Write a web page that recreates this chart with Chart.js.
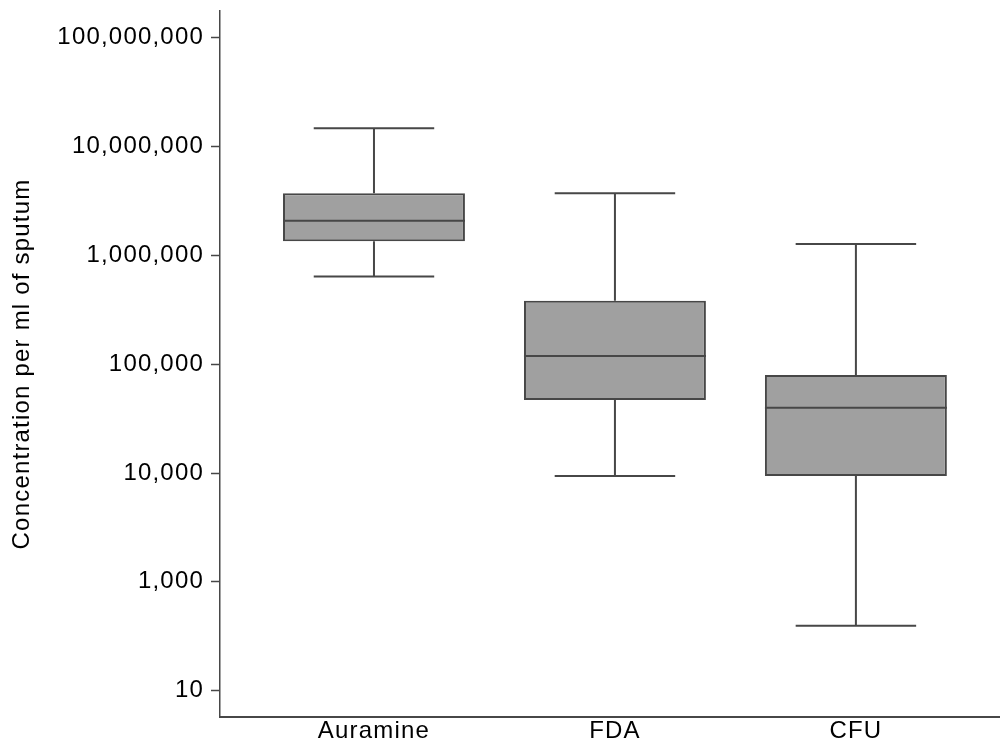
<!DOCTYPE html>
<html>
<head>
<meta charset="utf-8">
<script src="https://cdn.jsdelivr.net/npm/chart.js@4/dist/chart.umd.min.js"></script>
<style>
  html, body { margin: 0; padding: 0; background: #fff; }
  #wrap { width: 1000px; height: 745px; position: relative; }
</style>
</head>
<body>
<div id="wrap"><canvas id="box"></canvas></div>
<script>
//groups along the x axis
const categories = ["Auramine", "FDA", "CFU"];
//five number summary for each group (per ml of sputum)
const mins = [640000, 9400, 395];
const q1s = [1350000, 47000, 9400];
const medians = [2080000, 119000, 39700];
const q3s = [3720000, 383000, 79400];
const maxs = [14700000, 3720000, 1270000];
//y axis ticks and the text printed next to them
const tickValues = [100, 1000, 10000, 100000, 1000000, 10000000, 100000000];
const tickLabels = ["10", "1,000", "10,000", "100,000", "1,000,000", "10,000,000", "100,000,000"];

const lineColor = "#474747";
const boxFill = "#a0a0a0";

//slightly wider text spacing for all labels
const spacing = {
  id: "spacing",
  beforeLayout(chart) { chart.ctx.letterSpacing = "1.2px"; },
  beforeDraw(chart) { chart.ctx.letterSpacing = "1.2px"; },
};

//median line and whiskers drawn on top of the boxes
const whiskers = {
  id: "whiskers",
  afterDatasetsDraw(chart) {
    const ctx = chart.ctx;
    const x = chart.scales.x;
    const y = chart.scales.y;
    const meta = chart.getDatasetMeta(0);
    ctx.save();
    ctx.strokeStyle = lineColor;
    ctx.lineWidth = 2;
    ctx.lineCap = "butt";
    categories.forEach((c, i) => {
      const bar = meta.data[i];
      const cx = x.getPixelForValue(i + 1);
      const capL = x.getPixelForValue(i + 1 - 0.25);
      const capR = x.getPixelForValue(i + 1 + 0.25);
      const half = bar.width / 2;
      const yMed = y.getPixelForValue(medians[i]);
      const yMin = y.getPixelForValue(mins[i]);
      const yMax = y.getPixelForValue(maxs[i]);
      const yQ1 = y.getPixelForValue(q1s[i]);
      const yQ3 = y.getPixelForValue(q3s[i]);
      ctx.beginPath();
      //median
      ctx.moveTo(cx - half, yMed);
      ctx.lineTo(cx + half, yMed);
      //upper whisker
      ctx.moveTo(cx, yQ3);
      ctx.lineTo(cx, yMax);
      ctx.moveTo(capL, yMax);
      ctx.lineTo(capR, yMax);
      //lower whisker
      ctx.moveTo(cx, yQ1);
      ctx.lineTo(cx, yMin);
      ctx.moveTo(capL, yMin);
      ctx.lineTo(capR, yMin);
      ctx.stroke();
    });
    ctx.restore();
  },
};

const font = { family: "'Liberation Sans', Arial, Helvetica, sans-serif", size: 24 };

new Chart(document.getElementById("box"), {
  type: "bar",
  plugins: [spacing, whiskers],
  data: {
    datasets: [
      {
        data: categories.map((c, i) => ({ x: i + 1, y: [q1s[i], q3s[i]] })),
        backgroundColor: boxFill,
        borderColor: lineColor,
        borderWidth: 2,
        borderSkipped: false,
        barPercentage: 0.755,
        categoryPercentage: 1,
      },
    ],
  },
  options: {
    responsive: true,
    maintainAspectRatio: false,
    animation: false,
    devicePixelRatio: 1,
    layout: { padding: { top: 11, right: 0, bottom: 0, left: 0 } },
    plugins: {
      legend: { display: false },
      tooltip: { enabled: false },
    },
    scales: {
      x: {
        type: "linear",
        offset: false,
        min: 0.361,
        max: 3.598,
        afterBuildTicks: (scale) => {
          scale.ticks = categories.map((c, i) => ({ value: i + 1 }));
        },
        afterFit: (scale) => {
          scale.height = 28;
          scale.paddingLeft = 0;
          scale.paddingRight = 0;
        },
        ticks: {
          color: "#000",
          font: font,
          padding: 0,
          autoSkip: false,
          maxRotation: 0,
          callback: (v) => categories[v - 1],
        },
        grid: { display: true, offset: false, drawOnChartArea: false, drawTicks: false },
        border: { display: true, color: lineColor, width: 2 },
      },
      y: {
        type: "logarithmic",
        min: 57.3,
        max: 176000000,
        afterBuildTicks: (scale) => {
          scale.ticks = tickValues.map((v) => ({ value: v }));
        },
        afterFit: (scale) => {
          scale.width = 220;
          scale.paddingTop = 0;
          scale.paddingBottom = 0;
        },
        ticks: {
          color: "#000",
          font: font,
          padding: 7,
          autoSkip: false,
          callback: (v) => tickLabels[tickValues.indexOf(v)],
        },
        grid: {
          display: true,
          drawOnChartArea: false,
          drawTicks: true,
          tickLength: 9,
          tickWidth: 1.5,
          tickColor: lineColor,
        },
        border: { display: true, color: lineColor, width: 1.5 },
        title: {
          display: true,
          text: "Concentration per ml of sputum",
          color: "#000",
          font: font,
          padding: { top: 8, bottom: 0 },
        },
      },
    },
  },
});
</script>
</body>
</html>
